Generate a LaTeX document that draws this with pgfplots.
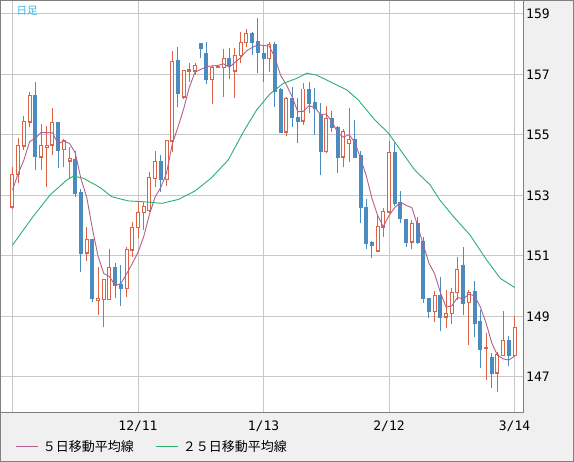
\documentclass[border=0pt]{standalone}
\usepackage{fontspec}
\usepackage{pgfplots}
\pgfplotsset{compat=1.18}
\usepackage{pgfplotstable}
\setmainfont{DejaVu Sans}
\newfontfamily\tickfont{DejaVu Sans Mono}
\newfontfamily\cjk{Noto Sans CJK JP}
\definecolor{upred}{HTML}{DC6446}
\definecolor{dnblue}{HTML}{4A8BC0}
\definecolor{maf}{HTML}{B4608C}
\definecolor{mat}{HTML}{2EAE72}
\definecolor{gridc}{HTML}{C8C8C8}
\definecolor{framec}{HTML}{808080}
\definecolor{bgc}{HTML}{F0F0F0}
\definecolor{titlec}{HTML}{3CB4E6}
% rising candles (close >= open)
\pgfplotstableread{
x O H L C
0 152.63 153.95 152.55 153.70
1 153.70 154.89 153.40 154.64
2 154.64 155.63 154.50 155.46
3 155.44 156.41 155.27 156.32
5 154.28 155.36 153.84 154.64
6 154.60 155.30 153.29 154.65
7 154.67 155.88 154.34 155.42
9 154.53 154.86 153.95 154.81
10 154.15 154.59 153.57 154.22
13 151.11 151.97 150.84 151.53
15 149.55 150.65 149.05 149.60
16 149.57 150.25 148.64 150.23
17 149.57 151.22 149.55 150.63
20 149.93 151.31 149.65 151.20
21 151.20 152.13 150.98 151.95
22 151.95 152.78 151.60 152.44
23 152.44 152.80 151.86 152.65
24 152.52 153.79 152.45 153.60
25 153.57 154.47 153.29 154.12
27 153.54 154.85 153.32 154.81
28 154.81 157.78 154.43 157.42
30 156.27 157.15 156.20 157.13
31 157.12 157.37 156.76 157.15
32 157.13 157.39 156.98 157.30
35 156.84 157.30 156.02 157.24
36 157.24 157.28 157.20 157.25
37 157.24 157.83 156.25 157.54
39 157.13 157.88 156.21 157.64
40 157.64 158.39 157.37 158.06
41 158.06 158.50 157.92 158.36
45 157.54 158.08 157.09 157.98
48 155.11 156.27 154.97 156.21
51 155.47 156.71 155.33 156.52
55 154.47 155.96 154.40 155.53
58 154.28 155.19 153.93 155.11
59 154.73 155.88 154.12 154.86
64 151.18 152.36 151.15 151.99
65 151.97 152.58 151.64 152.46
66 152.46 154.81 152.44 154.43
70 151.47 152.19 151.22 152.08
74 149.18 149.85 148.83 149.69
76 148.99 149.88 148.63 149.10
77 149.10 149.93 148.74 149.80
78 149.80 150.96 149.55 150.56
80 149.47 149.88 148.06 149.79
83 147.96 148.44 146.90 147.98
85 147.14 147.84 146.51 147.73
86 147.72 149.18 147.70 148.21
88 147.72 149.00 147.70 148.63
}\uptab
% falling candles (close < open)
\pgfplotstableread{
x O H L C
4 156.32 156.74 153.84 154.32
8 155.42 155.44 153.90 154.50
11 154.20 154.47 152.96 153.09
12 153.11 153.20 150.46 151.11
14 151.53 151.55 149.47 149.62
18 150.63 150.76 149.62 150.04
19 150.06 150.70 149.35 149.95
26 154.12 154.34 153.13 153.54
29 157.45 157.92 155.92 156.40
33 158.01 158.03 157.54 157.87
34 157.70 158.08 156.70 156.84
38 157.54 157.87 156.84 157.31
42 158.36 158.40 157.64 158.08
43 158.08 158.88 157.04 157.75
44 157.68 157.98 156.76 157.54
46 157.98 158.06 155.94 156.46
47 156.49 156.54 155.06 155.11
49 156.21 156.58 155.27 155.58
50 155.59 156.21 154.75 155.47
52 156.52 156.75 155.72 156.05
53 156.07 156.54 155.00 155.88
54 155.68 156.07 153.68 154.47
56 155.53 155.80 155.10 155.25
57 155.25 155.30 153.75 154.28
60 154.86 155.50 154.25 154.28
61 154.31 154.47 152.10 152.61
62 152.61 152.87 151.22 151.44
63 151.46 151.48 150.92 151.37
67 154.43 154.72 152.65 152.74
68 152.76 153.16 152.08 152.27
69 152.19 152.22 151.31 151.47
71 152.08 152.30 151.40 151.47
72 151.47 151.64 149.44 149.60
73 149.60 149.62 148.95 149.19
75 149.71 150.30 148.53 148.99
79 150.67 151.31 149.05 149.46
81 149.81 150.17 148.33 148.80
82 148.82 149.21 147.29 147.94
84 147.63 147.78 146.63 147.14
87 148.19 148.36 147.37 147.72
}\dntab
\begin{document}
\begin{tikzpicture}[x=1pt,y=1pt]
\path[use as bounding box] (0,0) rectangle (574,462);
\fill[bgc] (0,0) rectangle (574,462);
\draw[framec, line width=1pt] (0.5,0.5) rectangle (573.5,461.5);
\begin{axis}[
  at={(0.5pt,49.5pt)}, anchor=south west,
  scale only axis, width=523pt, height=412pt,
  xmin=-2.103, xmax=89.57, ymin=145.826, ymax=159.446,
  axis background/.style={fill=white},
  axis line style={framec, line width=1pt},
  xtick={0,22,44,66,88}, xticklabels={,12/11,1/13,2/12,3/14},
  ytick={147,149,151,153,155,157,159},
  yticklabels={147,149,151,153,155,157,159},
  yticklabel pos=right,
  major tick length=0pt,
  grid=major, grid style={gridc, line width=1pt},
  ticklabel style={font=\tickfont\fontsize{13}{13}\selectfont, text=black},
  xticklabel style={anchor=north, inner sep=0pt, yshift=-8pt},
  yticklabel style={anchor=west, inner sep=0pt, xshift=2.5pt},
  candle/.style={draw=none, no markers, forget plot,
    error bars/.cd, y dir=both, y explicit, error mark=none},
  legend style={at={(axis description cs:0.0296,-0.0837)}, anchor=west,
    draw=none, fill=none, inner sep=0pt, outer sep=0pt,
    font=\cjk\fontsize{13}{13}\selectfont, legend columns=2,
    /tikz/every even column/.append style={column sep=18pt},
    nodes={inner xsep=4pt, inner ysep=0pt}},
  legend cell align=left,
  legend image code/.code={\draw[#1, line width=1pt] (0pt,0pt) -- (22pt,0pt);},
]
% wicks
\addplot[candle, error bar style={draw=upred, line width=1pt}]
  table[x=x, y=L, y error plus expr=\thisrow{H}-\thisrow{L}, y error minus expr=0] {\uptab};
\addplot[candle, error bar style={draw=dnblue, line width=1pt}]
  table[x=x, y=L, y error plus expr=\thisrow{H}-\thisrow{L}, y error minus expr=0] {\dntab};
% falling bodies (filled)
\addplot[candle, error bar style={draw=dnblue, line width=4pt}]
  table[x=x, y=C, y error plus expr=\thisrow{O}-\thisrow{C}+0.0165, y error minus expr=0.0165] {\dntab};
% rising bodies (hollow)
\addplot[candle, error bar style={draw=upred, line width=4pt}]
  table[x=x, y=O, y error plus expr=\thisrow{C}-\thisrow{O}+0.0165, y error minus expr=0.0165] {\uptab};
\addplot[candle, error bar style={draw=white, line width=2pt}]
  table[x=x, y expr=\thisrow{O}+0.0165, y error plus expr={max(\thisrow{C}-\thisrow{O}-0.033,0)}, y error minus expr=0] {\uptab};
\addplot[maf, line width=0.9pt, mark=none] coordinates {
(0,153.18)(1,153.73)(2,154.17)(3,154.78)(4,154.89)(5,155.08)(6,155.08)(7,155.07)(8,154.71)(9,154.80)(10,154.72)(11,154.41)(12,153.55)(13,152.95)(14,151.91)(15,150.99)(16,150.42)(17,150.32)(18,150.02)(19,150.09)(20,150.41)(21,150.75)(22,151.12)(23,151.64)(24,152.37)(25,152.95)(26,153.27)(27,153.74)(28,154.70)(29,155.26)(30,155.86)(31,156.58)(32,157.08)(33,157.17)(34,157.26)(35,157.28)(36,157.30)(37,157.35)(38,157.24)(39,157.40)(40,157.56)(41,157.78)(42,157.89)(43,157.98)(44,157.96)(45,157.94)(46,157.56)(47,156.97)(48,156.66)(49,156.27)(50,155.77)(51,155.78)(52,155.97)(53,155.90)(54,155.68)(55,155.69)(56,155.44)(57,155.08)(58,154.93)(59,155.01)(60,154.76)(61,154.23)(62,153.66)(63,152.91)(64,152.34)(65,151.97)(66,152.34)(67,152.60)(68,152.78)(69,152.67)(70,152.60)(71,152.01)(72,151.38)(73,150.76)(74,150.41)(75,149.79)(76,149.31)(77,149.35)(78,149.63)(79,149.58)(80,149.74)(81,149.68)(82,149.31)(83,148.79)(84,148.13)(85,147.72)(86,147.60)(87,147.56)(88,147.69)
};
\addlegendentry{５日移動平均線}
\addplot[mat, line width=0.9pt, mark=none] coordinates {
(0,151.36)(3.6,152.30)(6.6,153.02)(9.5,153.51)(10.7,153.64)(12.4,153.57)(15.3,153.27)(17.4,152.96)(20.3,152.82)(23.2,152.79)(26.2,152.74)(29.1,152.87)(32.0,153.15)(34.8,153.57)(37.8,154.17)(40.5,155.11)(42.8,155.83)(45.1,156.35)(47.5,156.71)(49.8,156.87)(51.6,157.04)(53.3,156.98)(56.2,156.71)(58.6,156.49)(60.6,156.16)(63.5,155.50)(65.9,155.06)(68.2,154.45)(70.5,153.84)(73.2,153.35)(74.9,152.85)(77.3,152.30)(80.2,151.69)(83.1,150.87)(85.5,150.26)(88,149.96)
};
\addlegendentry{２５日移動平均線}
\end{axis}
\node[anchor=west, inner sep=0pt, text=titlec, font=\cjk\fontsize{10.5}{10.5}\selectfont] at (16.5,451.5) {日足};
\end{tikzpicture}
\end{document}
